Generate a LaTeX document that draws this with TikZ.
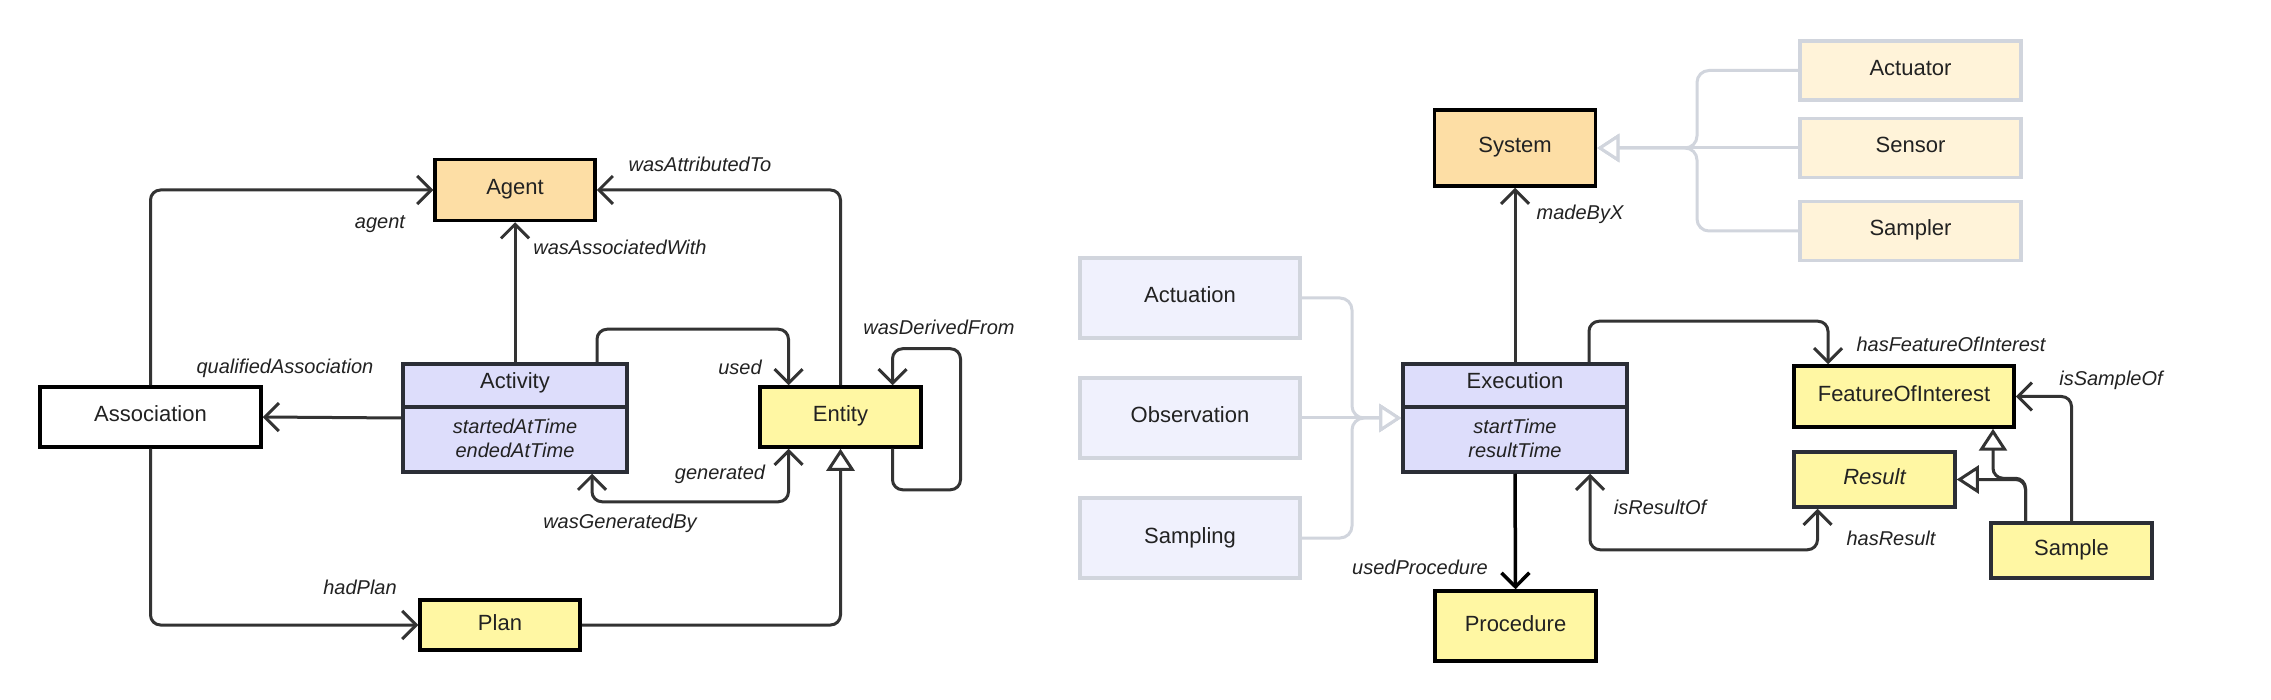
\documentclass[tikz,border=0pt]{standalone}
\usepackage{fontspec}
\setmainfont{Liberation Sans}
\usetikzlibrary{arrows.meta}
\definecolor{txt}{HTML}{222222}
\definecolor{ln}{HTML}{333333}
\definecolor{dk}{HTML}{2B2E36}
\definecolor{orng}{HTML}{FDDEA5}
\definecolor{ylw}{HTML}{FFF7A3}
\definecolor{lav}{HTML}{DDDDFB}
\definecolor{lavl}{HTML}{F0F1FD}
\definecolor{orl}{HTML}{FFF3D9}
\definecolor{gry}{HTML}{D1D5DD}
\begin{document}
\begin{tikzpicture}[x=1pt,y=-1pt,
  box/.style={draw=black, line width=3.5pt, inner sep=0pt, text=txt, font=\fontsize{22}{26}\selectfont, text height=16pt, text depth=6pt},
  gbox/.style={box, draw=gry},
  ttl/.style={inner sep=0pt, text=txt, font=\fontsize{22}{26}\selectfont, text height=16pt, text depth=6pt},
  lbl/.style={inner sep=0pt, text=txt, font=\fontsize{20}{24}\selectfont\itshape},
  conn/.style={draw=ln, line width=3pt, rounded corners=10pt},
  gconn/.style={draw=gry, line width=3pt, rounded corners=12pt},
  vee/.style={-{Straight Barb[length=14pt,width=28pt]}},
  vv/.style={{Straight Barb[length=14pt,width=28pt]}-{Straight Barb[length=14pt,width=28pt]}},
  gen/.style={-{Triangle[open,length=22pt,width=28pt,fill=white]}}
]
\useasboundingbox[fill=white] (0,0) rectangle (2271,700);

% ---------- left diagram ----------
\node[box, fill=orng, minimum width=160pt, minimum height=61pt] (agent) at (515,190) {Agent};
\node[box, fill=white, minimum width=221pt, minimum height=60pt] (assoc) at (150.5,417) {Association};
\node[box, draw=dk, fill=lav, minimum width=224pt, minimum height=108pt] (act) at (515,418) {};
\draw[dk, line width=3.5pt] ([yshift=11pt]act.west) -- ([yshift=11pt]act.east);
\node[ttl] (actT) at ([yshift=-21.5pt]act.north) {Activity};
\node[lbl, align=center] (actA) at ([yshift=35pt]act.south) {startedAtTime\\endedAtTime};
\node[box, fill=ylw, minimum width=161pt, minimum height=60pt] (ent) at (840.5,417) {Entity};
\node[box, fill=ylw, minimum width=160pt, minimum height=50pt] (plan) at (500,625) {Plan};

\draw[conn, vee] (assoc.north) |- (agent.west);
\draw[conn, vee] (ent.north) |- (agent.east);
\draw[conn, vee] (act.north) -- (agent.south);
\draw[conn, vee] (act.west) -- (assoc.east);
\draw[conn, vee] ([xshift=82pt]act.north) -- ++(0,-33) -| ([xshift=-52pt]ent.north);
\draw[conn, vv] ([xshift=77pt]act.south) -- ++(0,28) -| ([xshift=-52pt]ent.south);
\draw[conn, vee] ([xshift=52pt]ent.south) -- ++(0,41) -- ++(68,0) -- ++(0,-141) -- ++(-68,0) -- ([xshift=52pt]ent.north);
\draw[conn, vee] (assoc.south) |- (plan.west);
\draw[conn, gen] (plan.east) -| (ent.south);

\node[lbl] (l1) at (380,224) {agent};
\node[lbl] (l2) at (700,164) {wasAttributedTo};
\node[lbl] (l3) at (620,247) {wasAssociatedWith};
\node[lbl] (l4) at (285,368) {qualifiedAssociation};
\node[lbl] (l5) at (740,367) {used};
\node[lbl] (l6) at (720,474) {generated};
\node[lbl] (l7) at (620,523) {wasGeneratedBy};
\node[lbl] (l8) at (939,327) {wasDerivedFrom};
\node[lbl] (l9) at (360,587) {hadPlan};

% ---------- right diagram ----------
\node[box, fill=orng, minimum width=161pt, minimum height=76pt] (sys) at (1515,148) {System};
\node[gbox, fill=lavl, minimum width=220pt, minimum height=80pt] (actu) at (1190,298) {Actuation};
\node[gbox, fill=lavl, minimum width=220pt, minimum height=80pt] (obs) at (1190,418) {Observation};
\node[gbox, fill=lavl, minimum width=220pt, minimum height=80pt] (samp) at (1190,538) {Sampling};
\node[box, draw=dk, fill=lav, minimum width=224pt, minimum height=108pt] (exec) at (1515,418) {};
\draw[dk, line width=3.5pt] ([yshift=11pt]exec.west) -- ([yshift=11pt]exec.east);
\node[ttl] (exT) at ([yshift=-21.5pt]exec.north) {Execution};
\node[lbl, align=center] (exA) at ([yshift=35pt]exec.south) {startTime\\resultTime};
\node[box, fill=ylw, minimum width=161pt, minimum height=70pt] (proc) at (1515.5,626) {Procedure};
\node[gbox, fill=orl, minimum width=221pt, minimum height=59pt] (actr) at (1910.5,70.5) {Actuator};
\node[gbox, fill=orl, minimum width=221pt, minimum height=59pt] (sens) at (1910.5,148) {Sensor};
\node[gbox, fill=orl, minimum width=221pt, minimum height=59pt] (smpr) at (1910.5,231) {Sampler};
\node[box, fill=ylw, minimum width=220pt, minimum height=61pt] (foi) at (1904,396.5) {FeatureOfInterest};
\node[box, draw=dk, fill=ylw, minimum width=161pt, minimum height=55pt, font=\fontsize{22}{26}\selectfont\itshape] (res) at (1874.5,479.5) {Result};
\node[box, draw=dk, fill=ylw, minimum width=161pt, minimum height=55pt] (smpl) at (2071.5,550.5) {Sample};

\draw[gconn, gen] (actu.east) -| (1352,418) -- (exec.west);
\draw[gconn, gen] (obs.east) -- (exec.west);
\draw[gconn, gen] (samp.east) -| (1352,418) -- (exec.west);
\draw[gconn, gen] (actr.west) -| (1697,148) -- (sys.east);
\draw[gconn, gen] (sens.west) -- (sys.east);
\draw[gconn, gen] (smpr.west) -| (1697,148) -- (sys.east);

\draw[conn, vee] (exec.north) -- (sys.south);
\draw[conn, vee, draw=black, line width=3.5pt] (exec.south) -- (proc.north);
\draw[conn, vee] ([xshift=74pt]exec.north) -- ++(0,-41) -| ([xshift=-76pt]foi.north);
\draw[conn, vv] ([xshift=75pt]exec.south) -- ++(0,76) -| ([xshift=-57pt]res.south);
\draw[conn, vee] (smpl.north) |- (foi.east);
\draw[conn, gen] ([xshift=-46pt]smpl.north) |- (res.east);
\draw[conn, gen] ([xshift=-46pt]smpl.north) -- ++(0,-43) -| ([xshift=89pt]foi.south);

\node[lbl] (r1) at (1580,214) {madeByX};
\node[lbl] (r2) at (1420,567) {usedProcedure};
\node[lbl] (r3) at (1951,344) {hasFeatureOfInterest};
\node[lbl] (r4) at (1660,507) {isResultOf};
\node[lbl] (r5) at (1891,538) {hasResult};
\node[lbl] (r6) at (2111,380) {isSampleOf};
\end{tikzpicture}
\end{document}
